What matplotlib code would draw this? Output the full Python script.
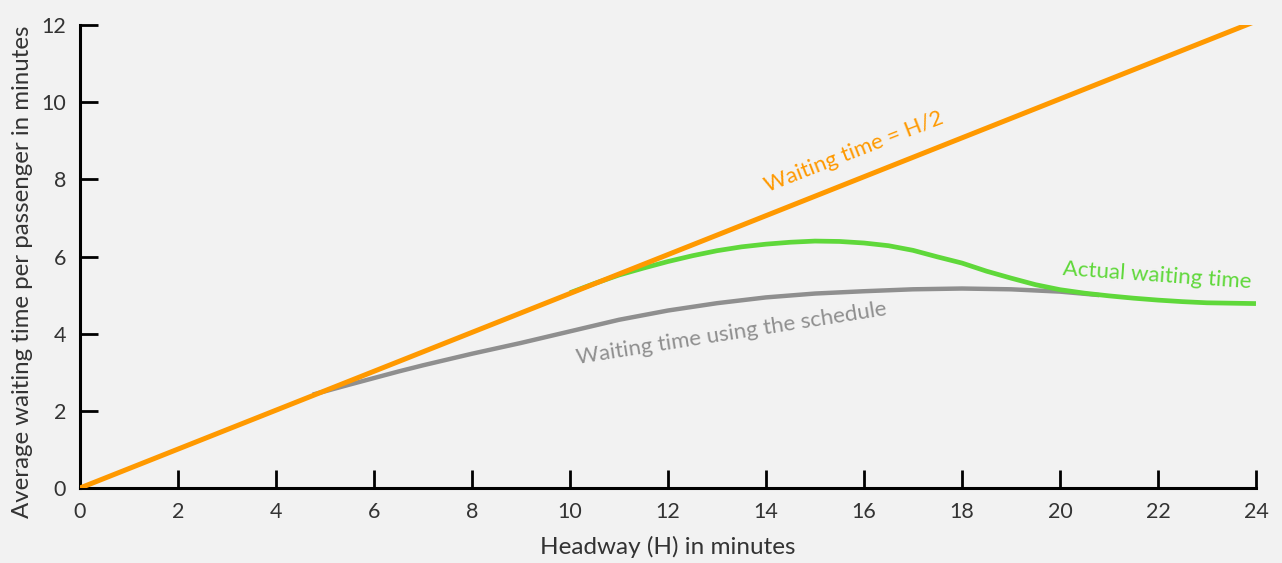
import matplotlib
matplotlib.use('Agg')
import matplotlib.pyplot as plt
import numpy as np

plt.rcParams['font.family'] = ['Lato', 'DejaVu Sans']

# data
headway_line = [0, 24]
wait_line = [0, 12.1]

sched_x = [4.75, 5.5, 6, 6.5, 7, 7.5, 8, 9, 10, 11, 12, 13, 14, 15, 16, 17, 18, 19, 20, 20.8]
sched_y = [2.42, 2.68, 2.85, 3.02, 3.18, 3.33, 3.48, 3.76, 4.06, 4.36, 4.6, 4.79, 4.94, 5.04, 5.1, 5.15, 5.17, 5.15, 5.09, 5.0]

actual_x = [10, 10.5, 11, 11.5, 12, 12.5, 13, 13.5, 14, 14.5, 15, 15.5, 16, 16.5, 17, 17.5, 18,
            18.5, 19, 19.5, 20, 20.5, 21, 21.5, 22, 22.5, 23, 23.5, 24]
actual_y = [5.06, 5.3, 5.52, 5.7, 5.87, 6.02, 6.15, 6.25, 6.32, 6.37, 6.4, 6.39, 6.35, 6.28, 6.16, 5.99, 5.83,
            5.62, 5.44, 5.27, 5.14, 5.05, 4.98, 4.92, 4.87, 4.83, 4.8, 4.79, 4.78]

xticks = list(range(0, 25, 2))
yticks = list(range(0, 13, 2))

bg = '#f2f2f2'
txt = '#333333'

fig = plt.figure(figsize=(12.82, 5.63), dpi=100, facecolor=bg)
ax = fig.add_axes([0.0624, 0.1332, 0.9173, 0.8224])
ax.set_facecolor(bg)

ax.plot(sched_x, sched_y, color='#8f8f8f', lw=3.2, solid_capstyle='butt', zorder=2)
ax.plot(actual_x, actual_y, color='#5fd83a', lw=3.4, solid_capstyle='butt', zorder=3)
ax.plot(headway_line, wait_line, color='#ff9900', lw=3.6, solid_capstyle='butt', zorder=4)

ax.text(15.8, 8.7, 'Waiting time = H/2', color='#ff9900', fontsize=16,
        rotation=21.4, ha='center', va='center')
ax.text(21.98, 5.5, 'Actual waiting time', color='#5fd83a', fontsize=16,
        rotation=-4, ha='center', va='center')
ax.text(13.3, 4.0, 'Waiting time using the schedule', color='#8f8f8f', fontsize=16,
        rotation=9, ha='center', va='center')

ax.set_xlim(0, 24)
ax.set_ylim(0, 12)
ax.set_xticks(xticks)
ax.set_yticks(yticks)
ax.tick_params(direction='in', length=13, width=2, colors='black', labelcolor=txt,
               labelsize=15.5, pad=10)
for s in ['top', 'right']:
    ax.spines[s].set_visible(False)
for s in ['left', 'bottom']:
    ax.spines[s].set_linewidth(2.2)

ax.set_xlabel('Headway (H) in minutes', fontsize=17.5, color=txt, labelpad=10)
ax.set_ylabel('Average waiting time per passenger in minutes', fontsize=17.3, color=txt)
ax.yaxis.set_label_coords(-0.04, 0.467)

fig.savefig('out.png', dpi=100, facecolor=bg)
